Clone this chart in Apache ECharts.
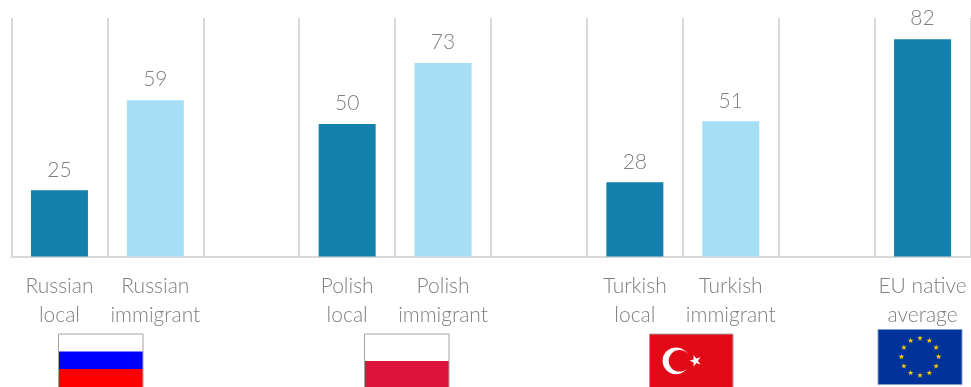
<!DOCTYPE html>
<html><head><meta charset="utf-8">
<style>html,body{margin:0;padding:0;background:#fff;overflow:hidden}#c{width:971px;height:387px}</style>
<script src="https://cdn.jsdelivr.net/npm/echarts@6/dist/echarts.min.js"></script>
</head><body><div id="c"></div>
<script>
const categories = ['Russian\nlocal','Russian\nimmigrant','','Polish\nlocal','Polish\nimmigrant','','Turkish\nlocal','Turkish\nimmigrant','','EU native\naverage'];
const localValues = [25,null,null,50,null,null,28,null,null,82];
const immigrantValues = [null,59,null,null,73,null,null,51,null,null];
const DARK='#1480ae', LIGHT='#a6dff5', TXT='#808080', FONT='Lato';

function starPts(cx,cy,R,rot){
  const pts=[];const r=R*0.382;
  for(let i=0;i<10;i++){const a=(rot||-Math.PI/2)+i*Math.PI/5;const q=i%2?r:R;pts.push([cx+q*Math.cos(a),cy+q*Math.sin(a)]);}
  return pts;
}
const BORDER='#a8a2a0';
const g=[];
function rect(x,y,w,h,fill,stroke){g.push({type:'rect',shape:{x,y,width:w,height:h},style:{fill:fill,stroke:stroke||null,lineWidth:stroke?1:0},silent:true});}
// Russia
rect(58.5,334,84.5,18,'#ffffff');rect(58.5,351.5,84.5,18,'#0000ff');rect(58.5,369,84.5,18,'#ff0000');
rect(58.5,334,84.5,54,'transparent',BORDER);
// Poland
rect(364.5,334,84.5,27,'#ffffff');rect(364.5,361,84.5,26,'#dc143c');
rect(364.5,334,84.5,54,'transparent',BORDER);
// Turkey
rect(649.5,334,83.5,54,'#e30a17',BORDER);
g.push({type:'circle',shape:{cx:676,cy:360.8,r:13.4},style:{fill:'#ffffff'},silent:true});
g.push({type:'circle',shape:{cx:679.5,cy:360.8,r:10.8},style:{fill:'#e30a17'},silent:true});
g.push({type:'polygon',shape:{points:starPts(695.5,360.8,6.2,Math.PI)},style:{fill:'#ffffff'},silent:true});
// EU
rect(878,329.5,84,55,'#003399','#7f99c8');
for(let i=0;i<12;i++){const a=i*Math.PI/6;
  g.push({type:'polygon',shape:{points:starPts(920+18.6*Math.sin(a),356.8-18.6*Math.cos(a),3)},style:{fill:'#ffcc00'},silent:true});}

const lbl={show:true,position:'top',distance:10,color:TXT,fontFamily:FONT,fontWeight:300,fontSize:21};
const chart=echarts.init(document.getElementById('c'),null,{renderer:'canvas'});
chart.setOption({
  animation:false,
  grid:{left:11.5,right:0.5,top:18,bottom:130.5,containLabel:false},
  xAxis:{type:'category',data:categories,boundaryGap:true,
    axisLine:{show:true,lineStyle:{color:'#d9d9d9',width:2}},axisTick:{show:false},
    splitLine:{show:true,interval:0,lineStyle:{color:'#d9d9d9',width:2}},
    axisLabel:{interval:0,margin:15,color:TXT,fontFamily:FONT,fontWeight:300,fontSize:21,lineHeight:29,overflow:'none'}},
  yAxis:{type:'value',min:0,max:90,show:false,splitLine:{show:false}},
  series:[
    {name:'Local',type:'bar',stack:'a',barWidth:57,data:localValues,itemStyle:{color:DARK},label:lbl},
    {name:'Immigrant',type:'bar',stack:'a',barWidth:57,data:immigrantValues,itemStyle:{color:LIGHT},label:lbl}
  ],
  graphic:g
});
</script></body></html>
